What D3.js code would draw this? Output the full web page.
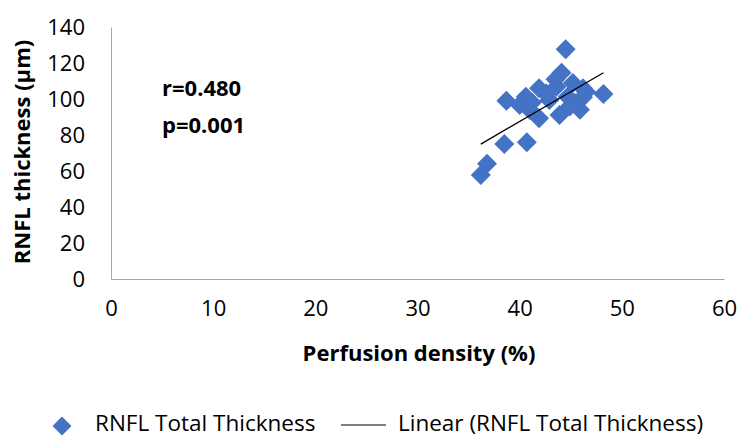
<!DOCTYPE html>
<html>
<head>
<meta charset="utf-8">
<script src="https://cdn.jsdelivr.net/npm/d3@7"></script>
<style>
  body { margin: 0; background: #fff; }
  text { font-family: "Open Sans", "Noto Sans", sans-serif; fill: #000; }
</style>
</head>
<body>
<svg id="chart"></svg>
<script>
// perfusion density (%) vs RNFL thickness (µm)
const perfusion = [44.5, 48.2, 38.7, 38.5, 40.7, 36.8, 36.2,
  44.1, 41.9, 40.6, 40.0, 41.0, 41.9, 43.9, 45.9, 45.2, 46.5, 46.2, 42.9, 43.6,
  44.7, 45.5, 43.5, 42.6, 41.2, 44.9, 46.2];
const thickness = [127.6, 102.8, 99, 75, 76, 64, 57.8,
  114.6, 106, 101.3, 96.7, 93.9, 89.3, 91.1, 94, 108.9, 104, 101, 99.4, 106.8,
  101.3, 97.6, 111, 103, 98, 95.8, 106];
const trend = { slope: 3.3, intercept: -44.5 };
const xTicks = [0, 10, 20, 30, 40, 50, 60];
const yTicks = [0, 20, 40, 60, 80, 100, 120, 140];
const stats = ['r=0.480', 'p=0.001'];
const legendLabels = ['RNFL Total Thickness', 'Linear (RNFL Total Thickness)'];

const width = 739, height = 437;
const blue = '#4472C4';
const svg = d3.select('#chart').attr('width', width).attr('height', height);

const x = d3.scaleLinear().domain([0, 60]).range([111, 724]);
const y = d3.scaleLinear().domain([0, 140]).range([279, 27]);

const diamond = r => `M0,${-r}L${r},0L0,${r}L${-r},0Z`;

// axes: thin gray lines, no tick marks
const xAxis = svg.append('g').attr('transform', `translate(0,${y(0)})`)
  .call(d3.axisBottom(x).tickValues(xTicks).tickSize(0).tickPadding(21));
const yAxis = svg.append('g').attr('transform', `translate(${x(0)},0)`)
  .call(d3.axisLeft(y).tickValues(yTicks).tickSize(0).tickPadding(26));
[xAxis, yAxis].forEach(a => {
  a.select('.domain').attr('stroke', '#a6a6a6').attr('stroke-width', 1);
  a.selectAll('text').style('font-size', '22px').attr('fill', '#000');
});
yAxis.selectAll('text').attr('dy', '0.36em');
xAxis.selectAll('text').attr('dy', '0.71em');

// points
const pts = perfusion.map((p, i) => ({ p, t: thickness[i] }));
svg.append('g').selectAll('path').data(pts).join('path')
  .attr('transform', d => `translate(${x(d.p)},${y(d.t)})`)
  .attr('d', diamond(10))
  .attr('fill', blue);

// linear trendline over the data range
const [xmin, xmax] = d3.extent(perfusion);
svg.append('line')
  .attr('x1', x(xmin)).attr('y1', y(trend.slope * xmin + trend.intercept))
  .attr('x2', x(xmax)).attr('y2', y(trend.slope * xmax + trend.intercept))
  .attr('stroke', '#000').attr('stroke-width', 1.3);

// stats text
svg.append('g').selectAll('text').data(stats).join('text')
  .attr('x', 162).attr('y', (d, i) => 96 + i * 37)
  .style('font-size', '22px').style('font-weight', 'bold')
  .text(d => d);

// axis titles
svg.append('text')
  .attr('x', 419).attr('y', 361).attr('text-anchor', 'middle')
  .style('font-size', '22px').style('font-weight', 'bold')
  .text('Perfusion density (%)');
svg.append('text')
  .attr('transform', 'translate(30,152) rotate(-90)').attr('text-anchor', 'middle')
  .style('font-size', '22px').style('font-weight', 'bold')
  .text('RNFL thickness (µm)');

// legend
const leg = svg.append('g').attr('transform', 'translate(0,431)');
leg.append('path').attr('transform', 'translate(62,-5)').attr('d', diamond(9.5)).attr('fill', blue);
leg.append('text').attr('x', 95).style('font-size', '22.5px').text(legendLabels[0]);
leg.append('line').attr('x1', 341).attr('x2', 386).attr('y1', -6).attr('y2', -6)
  .attr('stroke', '#000').attr('stroke-width', 1);
leg.append('text').attr('x', 398).style('font-size', '22.5px').text(legendLabels[1]);
</script>
</body>
</html>
